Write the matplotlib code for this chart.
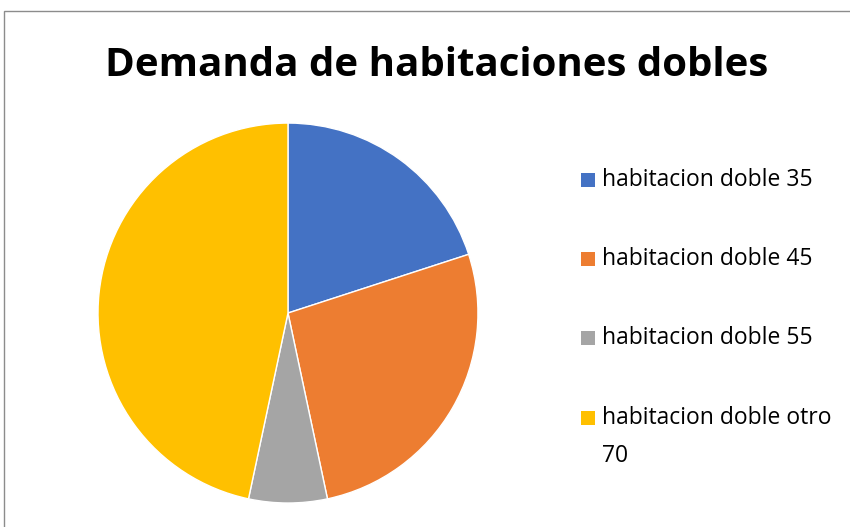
import matplotlib
matplotlib.use('Agg')
import matplotlib.pyplot as plt
from matplotlib.patches import Rectangle

# datos del grafico
titulo = 'Demanda de habitaciones dobles'
etiquetas = ['habitacion doble 35', 'habitacion doble 45',
             'habitacion doble 55', 'habitacion doble otro\n70']
valores = [15, 20, 5, 35]
colores = ['#4472C4', '#ED7D31', '#A5A5A5', '#FFC000']

plt.rcParams['font.family'] = ['Open Sans', 'DejaVu Sans']

fig = plt.figure(figsize=(8.5, 5.27), dpi=100)

# marco gris del area del grafico
fig.patches.append(Rectangle((4/850, -0.05), 1.0, 1 - 11/527 + 0.05,
                             transform=fig.transFigure, facecolor='none',
                             edgecolor='#8c8c8c', linewidth=1))

ax = fig.add_axes([0.1153, 0.0455, 0.447, 0.721])
ax.pie(valores, colors=colores, startangle=90, counterclock=False,
       radius=1, wedgeprops=dict(edgecolor='white', linewidth=1))
ax.set_xlim(-1, 1)
ax.set_ylim(-1, 1)
ax.set_aspect('equal')
ax.axis('off')

fig.text(437/850, 1 - 65/527, titulo, ha='center', va='center',
         fontsize=29, fontweight='bold')

# leyenda a la derecha
ys = [180, 259, 338, 418]
for lab, col, y in zip(etiquetas, colores, ys):
    fig.patches.append(Rectangle((581/850, 1 - (y + 7)/527), 14/850, 14/527,
                                 transform=fig.transFigure, facecolor=col,
                                 edgecolor='none'))
    if '\n' in lab:
        fig.text(602/850, 1 - (y - 12)/527, lab, ha='left', va='top',
                 fontsize=16.5, linespacing=1.75)
    else:
        fig.text(602/850, 1 - y/527, lab, ha='left', va='center', fontsize=16.5)

fig.savefig('out.png', dpi=100)
